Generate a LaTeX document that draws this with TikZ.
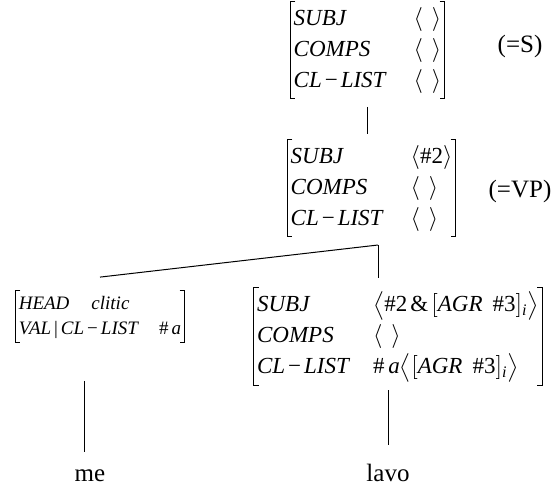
\documentclass[tikz,border=0pt]{standalone}
\usepackage{fontspec}
\setmainfont{Liberation Serif}
\usepackage{amsmath}
\usepackage{array}
\tikzset{
  avm/.style={inner xsep=1.5pt, inner ysep=1pt, font=\fontsize{11.5}{15.5}\selectfont\itshape},
  smallavm/.style={inner xsep=1.5pt, inner ysep=0.5pt, font=\fontsize{9.5}{12.5}\selectfont\itshape},
  word/.style={font=\fontsize{12.5}{15}\selectfont, anchor=base},
  branch/.style={line width=0.5pt},
}
\newcommand{\brk}[1]{%
  \draw[branch] ([xshift=2.5pt]#1.north west) -- (#1.north west) -- (#1.south west) -- ([xshift=2.5pt]#1.south west);
  \draw[branch] ([xshift=-2.5pt]#1.north east) -- (#1.north east) -- (#1.south east) -- ([xshift=-2.5pt]#1.south east);}
\newcommand{\ang}[1]{$\langle$#1$\rangle$}
\newcommand{\Ang}[1]{$\big\langle$#1$\big\rangle$}
\newcommand{\mn}{\hspace{1.5pt}\textup{−}\hspace{1.5pt}}
\begin{document}
\begin{tikzpicture}[x=0.5pt,y=-0.5pt]
  \useasboundingbox (0,0) rectangle (557,488);
  \draw
    (367.5,50) node[avm] (s) {\begin{tabular}{@{}p{60pt}@{}l@{}}
      SUBJ & \ang{\hspace{4.5pt}}\\
      COMPS & \ang{\hspace{4.5pt}}\\
      CL\mn LIST & \ang{\hspace{4.5pt}}\end{tabular}}
    (371.5,188) node[avm] (vp) {\begin{tabular}{@{}p{60pt}@{}l@{}}
      SUBJ & \ang{\textup{\#2}}\\
      COMPS & \ang{\hspace{4.5pt}}\\
      CL\mn LIST & \ang{\hspace{4.5pt}}\end{tabular}}
    (100,316.5) node[smallavm] (clit) {\begin{tabular}{@{}l@{}}
      HEAD\hspace{11pt}clitic\\
      VAL\hspace{1.5pt}\textup{|}\hspace{1.5pt}CL\mn LIST\hspace{10pt}\textup{\#}\,a\end{tabular}}
    (398,336.5) node[avm] (verb) {\begin{tabular}{@{}p{58pt}@{}l@{}}
      SUBJ & \Ang{\textup{\#2\hspace{1.5pt}\&\hspace{1.5pt}}$[$AGR\hspace{5pt}\textup{\#3}$]_{\textit{i}}$}\\
      COMPS & \ang{\hspace{4.5pt}}\\
      CL\mn LIST & \textup{\#}\,a\Ang{$[$AGR\hspace{5pt}\textup{\#3}$]_{\textit{i}}$}\end{tabular}}
    (90,481) node[word] (me) {me}
    (388,481) node[word] (lavo) {lavo}
    (520,46) node[word, anchor=center] (sLabel) {(=S)}
    (520,191) node[word, anchor=center] (vpLabel) {(=VP)};
  \coordinate (fork) at (378,245);
  \coordinate (clitTop) at ([yshift=6.5pt]clit.north);
  \brk{s}
  \brk{vp}
  \brk{clit}
  \brk{verb}
  \begin{scope}[branch]
    \draw[shorten <=4pt, shorten >=2.5pt] (s.south) to (s.south |- vp.north);
    \draw (clitTop) to (fork);
    \draw[shorten >=5pt] (fork) to (fork |- verb.north);
    \draw[shorten <=2.5pt, shorten >=6pt] (lavo.north |- verb.south) to (lavo.north);
    \draw[shorten <=19pt, shorten >=5pt] ([xshift=-3pt]me.north |- clit.south) to ([xshift=-3pt]me.north);
  \end{scope}
\end{tikzpicture}
\end{document}
